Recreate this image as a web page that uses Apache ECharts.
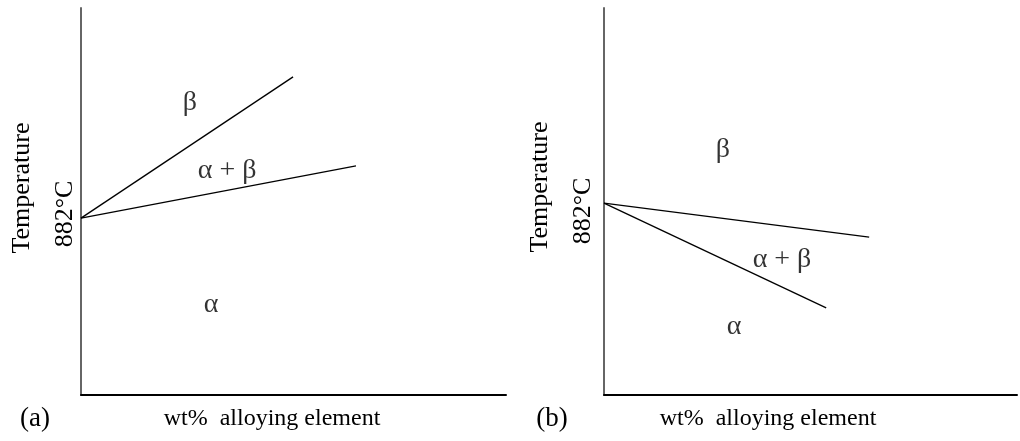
<!DOCTYPE html>
<html>
<head>
<meta charset="utf-8">
<script src="https://cdn.jsdelivr.net/npm/echarts@6/dist/echarts.min.js"></script>
<style>html,body{margin:0;padding:0;background:#fff}#c{width:1020px;height:441px}</style>
</head>
<body>
<div id="c"></div>
<script>
// Panel (a): phase boundaries (x = wt% alloying element, y = temperature, arbitrary units)
const aUpperLine = [[0, 45.7], [49.9, 82.2]];
const aLowerLine = [[0, 45.7], [64.7, 59.2]];
const aLabels = [
  { name: 'β', value: [25.6, 75.5] },
  { name: 'α + β', value: [34.4, 58.1] },
  { name: 'α', value: [30.6, 23.3] }
];
// Panel (b)
const bUpperLine = [[0, 49.6], [64.2, 40.8]];
const bLowerLine = [[0, 49.6], [53.8, 22.5]];
const bLabels = [
  { name: 'β', value: [28.8, 63.3] },
  { name: 'α + β', value: [43.1, 34.9] },
  { name: 'α', value: [31.5, 17.6] }
];
const panelTags = ['(a)', '(b)'];
const xAxisTitle = 'wt%  alloying element';
const yAxisTitle = 'Temperature';
const refTempLabel = '882°C';

const FONT = '"Liberation Serif", "DejaVu Serif", serif';
const chart = echarts.init(document.getElementById('c'), null, { renderer: 'canvas' });

function xAx(i) {
  return { type: 'value', gridIndex: i, min: 0, max: 100,
    axisLine: { show: true, lineStyle: { color: '#000', width: 2 } },
    axisTick: { show: false }, axisLabel: { show: false }, splitLine: { show: false } };
}
function yAx(i) {
  return { type: 'value', gridIndex: i, min: 0, max: 100,
    axisLine: { show: true, lineStyle: { color: '#666', width: 2 } },
    axisTick: { show: false }, axisLabel: { show: false }, splitLine: { show: false } };
}
function lineS(i, data) {
  return { type: 'line', xAxisIndex: i, yAxisIndex: i, data: data, symbol: 'none',
    silent: true, lineStyle: { color: '#000', width: 1.3 } };
}
function labelS(i, data) {
  return { type: 'scatter', xAxisIndex: i, yAxisIndex: i, data: data, symbolSize: 1,
    itemStyle: { color: 'rgba(0,0,0,0)' }, silent: true,
    label: { show: true, position: 'inside', formatter: '{b}', color: '#000',
      fontFamily: FONT, fontSize: 28 } };
}
function txt(x, y, text, rot, size) {
  return { type: 'text', x: x, y: y, rotation: rot || 0,
    style: { text: text, font: (size || 24) + 'px ' + FONT, fill: '#000', align: 'center', verticalAlign: 'middle' } };
}

chart.setOption({
  animation: false,
  grid: [
    { left: 81, top: 8, width: 425, height: 387 },
    { left: 604, top: 8, width: 413, height: 387 }
  ],
  xAxis: [xAx(0), xAx(1)],
  yAxis: [yAx(0), yAx(1)],
  series: [
    lineS(0, aUpperLine), lineS(0, aLowerLine), labelS(0, aLabels),
    lineS(1, bUpperLine), lineS(1, bLowerLine), labelS(1, bLabels)
  ],
  graphic: [
    txt(35, 419, panelTags[0], 0, 27),
    txt(552, 419, panelTags[1], 0, 27),
    txt(272, 419, xAxisTitle),
    txt(768, 419, xAxisTitle),
    txt(22, 188, yAxisTitle, Math.PI / 2, 26),
    txt(65, 214, refTempLabel, Math.PI / 2, 26),
    txt(540, 187, yAxisTitle, Math.PI / 2, 26),
    txt(583, 211, refTempLabel, Math.PI / 2, 26)
  ]
});
</script>
</body>
</html>
